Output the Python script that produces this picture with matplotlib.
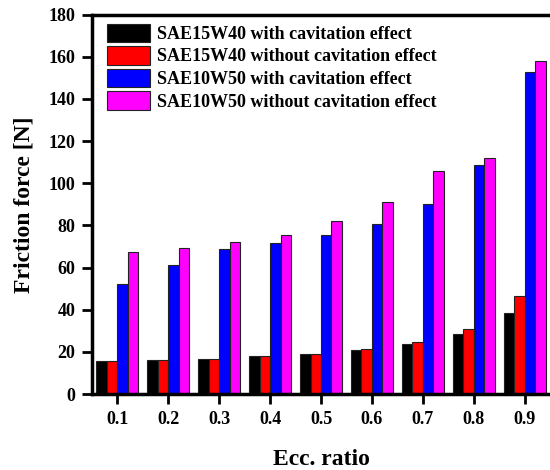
import matplotlib
matplotlib.use("Agg")
import matplotlib.pyplot as plt
import numpy as np

plt.rcParams['font.family'] = ['Liberation Serif', 'DejaVu Serif']
plt.rcParams['font.weight'] = 'bold'

ecc = ["0.1", "0.2", "0.3", "0.4", "0.5", "0.6", "0.7", "0.8", "0.9"]
sae15_with = [15.7, 16.2, 16.8, 17.9, 19.0, 21.1, 23.9, 28.6, 38.3]
sae15_without = [15.7, 16.2, 16.8, 17.9, 18.8, 21.4, 24.6, 30.9, 46.3]
sae10_with = [52.0, 61.2, 68.7, 71.5, 75.6, 80.5, 90.3, 108.4, 152.6]
sae10_without = [67.5, 69.3, 72.0, 75.6, 82.0, 91.2, 105.8, 111.8, 157.8]

series = [
    ("SAE15W40 with cavitation effect", sae15_with, "#000000"),
    ("SAE15W40 without cavitation effect", sae15_without, "#ff0000"),
    ("SAE10W50 with cavitation effect", sae10_with, "#0000ff"),
    ("SAE10W50 without cavitation effect", sae10_without, "#ff00ff"),
]

fig = plt.figure(figsize=(5.5, 4.7), dpi=100)
ax = fig.add_axes([0.1673, 0.1617, 0.8327, 0.8074])

x = np.array([float(v) for v in ecc])
w = 0.0206
for i, (lab, vals, col) in enumerate(series):
    ax.bar(x + (i - 1.5) * w, vals, width=w, color=col, edgecolor="#222222",
           linewidth=0.8, label=lab)

ax.set_xlim(0.05, 0.95)
ax.set_ylim(0, 180)
ax.set_xticks(x)
ax.set_xticklabels(ecc)
ax.set_yticks(np.arange(0, 181, 20))
ax.tick_params(direction='out', length=7, width=2, labelsize=13, pad=5)
for lbl in ax.get_xticklabels() + ax.get_yticklabels():
    lbl.set_fontweight('bold')
for s in ['left', 'bottom', 'top']:
    ax.spines[s].set_linewidth(2.5)
ax.spines['right'].set_visible(False)

ax.set_xlabel("Ecc. ratio", fontsize=17, fontweight='bold', labelpad=15)
ax.set_ylabel("Friction force [N]", fontsize=17, fontweight='bold', labelpad=10)

leg = ax.legend(loc='upper left', bbox_to_anchor=(0.013, 1.0), frameon=False,
                prop={'weight': 'bold', 'size': 13},
                handlelength=2.4, handleheight=1.2, handletextpad=0.35,
                labelspacing=0.18, borderaxespad=0.3, borderpad=0.2)

fig.savefig("out.png", dpi=100)
